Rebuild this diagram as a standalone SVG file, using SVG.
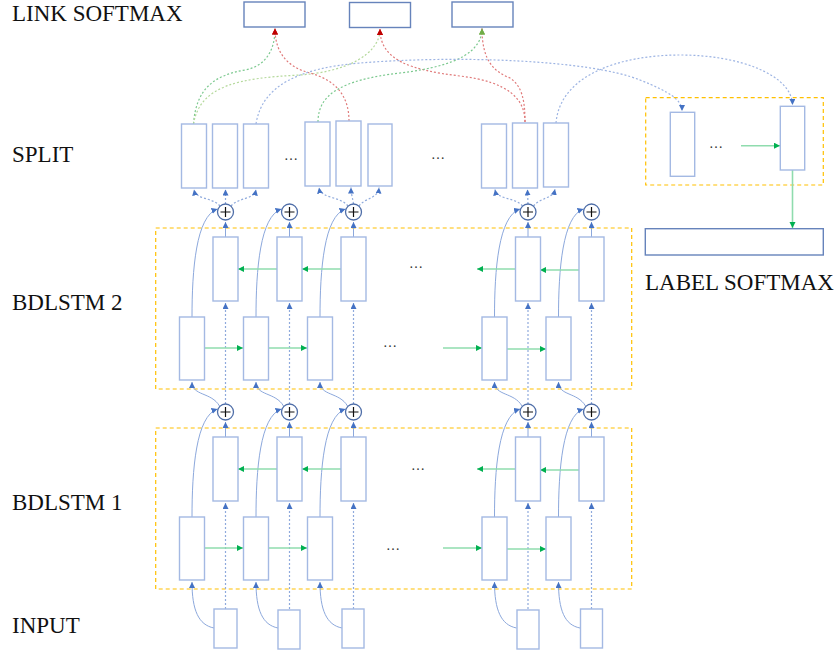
<svg xmlns="http://www.w3.org/2000/svg" width="839" height="655" viewBox="0 0 839 655">
<style>
.lbl{font-family:"Liberation Serif","Times New Roman",serif;font-size:23px;fill:#111}
.ell{font-family:"Liberation Serif","Times New Roman",serif;font-size:14px;fill:#333}
.cell{fill:#fff;stroke:#a4b9e3;stroke-width:1.4}
.dark{fill:#fff;stroke:#6683bb;stroke-width:1.4}
.frame{fill:none;stroke:#ffc000;stroke-width:1.2;stroke-dasharray:4,3}
.sum{fill:#fff;stroke:#4f6ea8;stroke-width:1.3}
.plus{stroke:#111;stroke-width:1.2}
.sol{fill:none;stroke:#8ca8dc;stroke-width:1}
.dot{fill:none;stroke:#8faadc;stroke-width:1.2;stroke-dasharray:2,2}
.grn{fill:none;stroke:#8fdcae;stroke-width:1.6}
.lr{fill:none;stroke:#e07a7a;stroke-width:1.2;stroke-dasharray:2,2}
.lg{fill:none;stroke:#7cc98f;stroke-width:1.2;stroke-dasharray:2,2}
.llg{fill:none;stroke:#b5d99c;stroke-width:1.2;stroke-dasharray:2,2}
.lb{fill:none;stroke:#9db4e3;stroke-width:1.2;stroke-dasharray:2,2}
</style>
<defs>
<marker id="ab" markerUnits="userSpaceOnUse" markerWidth="7" markerHeight="7" refX="6" refY="3" orient="auto"><path d="M0,0 L6,3 L0,6 z" fill="#4472c4"/></marker>
<marker id="ag" markerUnits="userSpaceOnUse" markerWidth="7" markerHeight="7" refX="6" refY="3" orient="auto"><path d="M0,0 L6,3 L0,6 z" fill="#00b050"/></marker>
<marker id="ar" markerUnits="userSpaceOnUse" markerWidth="7" markerHeight="7" refX="6" refY="3" orient="auto"><path d="M0,0 L6,3 L0,6 z" fill="#c00000"/></marker>
<marker id="ao" markerUnits="userSpaceOnUse" markerWidth="7" markerHeight="7" refX="6" refY="3" orient="auto"><path d="M0,0 L6,3 L0,6 z" fill="#70ad47"/></marker>
</defs>
<rect width="839" height="655" fill="#fff"/>

<g id="labels">
<text class="lbl" x="12" y="21">LINK SOFTMAX</text>
<text class="lbl" x="12" y="162">SPLIT</text>
<text class="lbl" x="12" y="310">BDLSTM 2</text>
<text class="lbl" x="12" y="510">BDLSTM 1</text>
<text class="lbl" x="12" y="633">INPUT</text>
<text class="lbl" x="645" y="290">LABEL SOFTMAX</text>
</g>

<g id="frames">
<rect id="bdlstm2-frame" class="frame" x="155.7" y="228" width="476" height="161"/>
<rect id="bdlstm1-frame" class="frame" x="155.7" y="428" width="476" height="161"/>
<rect id="label-frame" class="frame" x="645.7" y="97.7" width="177.6" height="87.3"/>
</g>

<g id="connectors">
<!-- column 1 -->
<path class="dot" d="M225.5,609 L225.5,503" marker-end="url(#ab)"/>
<path class="sol" d="M214,628 C198.5,625 192,610 192,582" marker-end="url(#ab)"/>
<path class="sol" d="M225.5,437 L225.5,422" marker-end="url(#ab)"/>
<path class="sol" d="M192,517 C192,470 196,416 217.5,409" marker-end="url(#ab)"/>
<path class="dot" d="M225.5,404 L225.5,303" marker-end="url(#ab)"/>
<path class="sol" d="M219.5,406 C211.5,392 192,396 192,382" marker-end="url(#ab)"/>
<path class="sol" d="M225.5,237 L225.5,222" marker-end="url(#ab)"/>
<path class="sol" d="M192,317 C192,270 196,216 217.5,209" marker-end="url(#ab)"/>
<!-- column 2 -->
<path class="dot" d="M289.5,609 L289.5,503" marker-end="url(#ab)"/>
<path class="sol" d="M278,628 C262.5,625 256,610 256,582" marker-end="url(#ab)"/>
<path class="sol" d="M289.5,437 L289.5,422" marker-end="url(#ab)"/>
<path class="sol" d="M256,517 C256,470 260,416 281.5,409" marker-end="url(#ab)"/>
<path class="dot" d="M289.5,404 L289.5,303" marker-end="url(#ab)"/>
<path class="sol" d="M283.5,406 C275.5,392 256,396 256,382" marker-end="url(#ab)"/>
<path class="sol" d="M289.5,237 L289.5,222" marker-end="url(#ab)"/>
<path class="sol" d="M256,317 C256,270 260,216 281.5,209" marker-end="url(#ab)"/>
<!-- column 3 -->
<path class="dot" d="M353.5,609 L353.5,503" marker-end="url(#ab)"/>
<path class="sol" d="M342,628 C326.5,625 320,610 320,582" marker-end="url(#ab)"/>
<path class="sol" d="M353.5,437 L353.5,422" marker-end="url(#ab)"/>
<path class="sol" d="M320,517 C320,470 324,416 345.5,409" marker-end="url(#ab)"/>
<path class="dot" d="M353.5,404 L353.5,303" marker-end="url(#ab)"/>
<path class="sol" d="M347.5,406 C339.5,392 320,396 320,382" marker-end="url(#ab)"/>
<path class="sol" d="M353.5,237 L353.5,222" marker-end="url(#ab)"/>
<path class="sol" d="M320,317 C320,270 324,216 345.5,209" marker-end="url(#ab)"/>
<!-- column 4 -->
<path class="dot" d="M528,609 L528,503" marker-end="url(#ab)"/>
<path class="sol" d="M516.5,628 C501,625 494.5,610 494.5,582" marker-end="url(#ab)"/>
<path class="sol" d="M528,437 L528,422" marker-end="url(#ab)"/>
<path class="sol" d="M494.5,517 C494.5,470 498.5,416 520,409" marker-end="url(#ab)"/>
<path class="dot" d="M528,404 L528,303" marker-end="url(#ab)"/>
<path class="sol" d="M522,406 C514,392 494.5,396 494.5,382" marker-end="url(#ab)"/>
<path class="sol" d="M528,237 L528,222" marker-end="url(#ab)"/>
<path class="sol" d="M494.5,317 C494.5,270 498.5,216 520,209" marker-end="url(#ab)"/>
<!-- column 5 -->
<path class="dot" d="M591.5,609 L591.5,503" marker-end="url(#ab)"/>
<path class="sol" d="M580,628 C564.5,625 558.5,610 558.5,582" marker-end="url(#ab)"/>
<path class="sol" d="M591.5,437 L591.5,422" marker-end="url(#ab)"/>
<path class="sol" d="M558.5,517 C558.5,470 562.5,416 583.5,409" marker-end="url(#ab)"/>
<path class="dot" d="M591.5,404 L591.5,303" marker-end="url(#ab)"/>
<path class="sol" d="M585.5,406 C577.5,392 558.5,396 558.5,382" marker-end="url(#ab)"/>
<path class="sol" d="M591.5,237 L591.5,222" marker-end="url(#ab)"/>
<path class="sol" d="M558.5,317 C558.5,270 562.5,216 583.5,209" marker-end="url(#ab)"/>

<!-- recurrent arrows -->
<path class="grn" d="M204,348 L243,348" marker-end="url(#ag)"/>
<path class="grn" d="M268,348 L307,348" marker-end="url(#ag)"/>
<path class="grn" d="M443,348 L482,348" marker-end="url(#ag)"/>
<path class="grn" d="M507,349 L546,349" marker-end="url(#ag)"/>
<path class="grn" d="M277,269 L238,269" marker-end="url(#ag)"/>
<path class="grn" d="M341,269 L302,269" marker-end="url(#ag)"/>
<path class="grn" d="M516,269 L477,269" marker-end="url(#ag)"/>
<path class="grn" d="M579,270 L540,270" marker-end="url(#ag)"/>
<path class="grn" d="M204,548 L243,548" marker-end="url(#ag)"/>
<path class="grn" d="M268,548 L307,548" marker-end="url(#ag)"/>
<path class="grn" d="M443,548 L482,548" marker-end="url(#ag)"/>
<path class="grn" d="M507,549 L546,549" marker-end="url(#ag)"/>
<path class="grn" d="M277,469 L238,469" marker-end="url(#ag)"/>
<path class="grn" d="M341,469 L302,469" marker-end="url(#ag)"/>
<path class="grn" d="M516,469 L477,469" marker-end="url(#ag)"/>
<path class="grn" d="M579,470 L540,470" marker-end="url(#ag)"/>

<!-- sum to split -->
<path class="dot" d="M220,206 C212,197 196,200 194,189.5" marker-end="url(#ab)"/>
<path class="dot" d="M225.5,204 L225.5,189.5" marker-end="url(#ab)"/>
<path class="dot" d="M231,206 C239,197 254,200 256,189.5" marker-end="url(#ab)"/>
<path class="dot" d="M348,206 C340,196 321,199 319,187.5" marker-end="url(#ab)"/>
<path class="dot" d="M353.5,204 C352.5,197 351,194 351,187.5" marker-end="url(#ab)"/>
<path class="dot" d="M359,206 C366,197 378,199 379,187.5" marker-end="url(#ab)"/>
<path class="dot" d="M522.5,206 C515,197 497,200 495,189.5" marker-end="url(#ab)"/>
<path class="dot" d="M528,204 L527.5,189.5" marker-end="url(#ab)"/>
<path class="dot" d="M533.5,206 C541,197 553,199 555,189" marker-end="url(#ab)"/>

<!-- split to link softmax -->
<path class="lg" d="M193.5,124 C196,88 215,75 245,70 C266,66 275,50 275,28.5" marker-end="url(#ar)"/>
<path class="llg" d="M193.5,124 C200,85 240,78 300,75 C345,72 380,55 380,29" marker-end="url(#ar)"/>
<path class="lr" d="M349,121 C349,95 335,80 310,73 C290,68 275,55 275,28.5" marker-end="url(#ar)"/>
<path class="lr" d="M525,122 C525,100 510,82 460,76 C410,70 380,60 380,29" marker-end="url(#ar)"/>
<path class="lg" d="M318,122 C318,95 340,80 400,73 C460,66 482,50 482,28.5" marker-end="url(#ao)"/>
<path class="lr" d="M525,122 C525,100 522,86 510,78 C495,72 482,62 482,28.5" marker-end="url(#ao)"/>
<path class="lb" d="M256,124 C262,85 300,68 360,63 C460,55 590,60 640,80 C670,92 682,100 682,111" marker-end="url(#ab)"/>
<path class="lb" d="M556,123 C560,75 620,55 680,55 C740,55 792,75 792.5,105" marker-end="url(#ab)"/>

<!-- label section -->
<path class="grn" d="M741,145.7 L780,145.7" marker-end="url(#ag)"/>
<path class="grn" d="M792.5,170 L792.5,228" marker-end="url(#ag)"/>
</g>

<g id="link-softmax">
<rect id="link-a" class="dark" x="244" y="2" width="61" height="25"/>
<rect id="link-b" class="dark" x="349.5" y="2.5" width="61" height="25"/>
<rect id="link-c" class="dark" x="452" y="2" width="61" height="25"/>
</g>

<g id="split">
<rect id="split-1" class="cell" x="181.5" y="124" width="25" height="64"/>
<rect id="split-2" class="cell" x="212.5" y="124" width="25" height="64"/>
<rect id="split-3" class="cell" x="243.5" y="124" width="25" height="64"/>
<rect id="split-4" class="cell" x="305" y="122" width="25" height="64"/>
<rect id="split-5" class="cell" x="336" y="121" width="25" height="65"/>
<rect id="split-6" class="cell" x="368" y="124" width="24" height="62"/>
<rect id="split-7" class="cell" x="481.5" y="124" width="25" height="64"/>
<rect id="split-8" class="cell" x="512.5" y="123" width="25" height="65"/>
<rect id="split-9" class="cell" x="543.5" y="123" width="25" height="64"/>
<text class="ell" x="284" y="160">…</text>
<text class="ell" x="431" y="159">…</text>
</g>

<g id="label-section">
<rect id="label-1" class="cell" x="670.3" y="112.3" width="24.4" height="64"/>
<rect id="label-2" class="cell" x="780.3" y="106.3" width="24.4" height="63.7"/>
<text class="ell" x="709" y="148">…</text>
<rect id="label-softmax" class="dark" x="645.3" y="228.7" width="178" height="26.3"/>
</g>

<g id="bdlstm2">
<rect id="b2-bw-1" class="cell" x="213" y="237" width="25" height="64"/>
<rect id="b2-bw-2" class="cell" x="277" y="237" width="25" height="64"/>
<rect id="b2-bw-3" class="cell" x="341" y="237" width="25" height="64"/>
<rect id="b2-bw-4" class="cell" x="515.5" y="237" width="25" height="64"/>
<rect id="b2-bw-5" class="cell" x="579" y="237" width="25" height="64"/>
<rect id="b2-fw-1" class="cell" x="179.5" y="317" width="25" height="63"/>
<rect id="b2-fw-2" class="cell" x="243.5" y="317" width="25" height="63"/>
<rect id="b2-fw-3" class="cell" x="307.5" y="317" width="25" height="63"/>
<rect id="b2-fw-4" class="cell" x="482" y="317" width="25" height="63"/>
<rect id="b2-fw-5" class="cell" x="546" y="317" width="25" height="63"/>
<text class="ell" x="409" y="268">…</text>
<text class="ell" x="383" y="347">…</text>
</g>

<g id="bdlstm1">
<rect id="b1-bw-1" class="cell" x="213" y="437" width="25" height="64"/>
<rect id="b1-bw-2" class="cell" x="277" y="437" width="25" height="64"/>
<rect id="b1-bw-3" class="cell" x="341" y="437" width="25" height="64"/>
<rect id="b1-bw-4" class="cell" x="515.5" y="437" width="25" height="64"/>
<rect id="b1-bw-5" class="cell" x="579" y="437" width="25" height="64"/>
<rect id="b1-fw-1" class="cell" x="179.5" y="517" width="25" height="63"/>
<rect id="b1-fw-2" class="cell" x="243.5" y="517" width="25" height="63"/>
<rect id="b1-fw-3" class="cell" x="307.5" y="517" width="25" height="63"/>
<rect id="b1-fw-4" class="cell" x="482" y="517" width="25" height="63"/>
<rect id="b1-fw-5" class="cell" x="546" y="517" width="25" height="63"/>
<text class="ell" x="411" y="470">…</text>
<text class="ell" x="386" y="550">…</text>
</g>

<g id="input">
<rect id="in-1" class="cell" x="214" y="609" width="23" height="39"/>
<rect id="in-2" class="cell" x="278" y="610" width="22" height="39"/>
<rect id="in-3" class="cell" x="342" y="609" width="22" height="39"/>
<rect id="in-4" class="cell" x="517" y="610" width="22" height="39"/>
<rect id="in-5" class="cell" x="580.5" y="609" width="22" height="39"/>
</g>

<g id="sums">
<g id="sum2-1"><circle class="sum" cx="225.5" cy="212" r="8"/><path class="plus" d="M220.5,212 H230.5 M225.5,207 V217"/></g>
<g id="sum2-2"><circle class="sum" cx="289.5" cy="212" r="8"/><path class="plus" d="M284.5,212 H294.5 M289.5,207 V217"/></g>
<g id="sum2-3"><circle class="sum" cx="353.5" cy="212" r="8"/><path class="plus" d="M348.5,212 H358.5 M353.5,207 V217"/></g>
<g id="sum2-4"><circle class="sum" cx="528" cy="212" r="8"/><path class="plus" d="M523,212 H533 M528,207 V217"/></g>
<g id="sum2-5"><circle class="sum" cx="591.5" cy="212" r="8"/><path class="plus" d="M586.5,212 H596.5 M591.5,207 V217"/></g>
<g id="sum1-1"><circle class="sum" cx="225.5" cy="412" r="8"/><path class="plus" d="M220.5,412 H230.5 M225.5,407 V417"/></g>
<g id="sum1-2"><circle class="sum" cx="289.5" cy="412" r="8"/><path class="plus" d="M284.5,412 H294.5 M289.5,407 V417"/></g>
<g id="sum1-3"><circle class="sum" cx="353.5" cy="412" r="8"/><path class="plus" d="M348.5,412 H358.5 M353.5,407 V417"/></g>
<g id="sum1-4"><circle class="sum" cx="528" cy="412" r="8"/><path class="plus" d="M523,412 H533 M528,407 V417"/></g>
<g id="sum1-5"><circle class="sum" cx="591.5" cy="412" r="8"/><path class="plus" d="M586.5,412 H596.5 M591.5,407 V417"/></g>
</g>
</svg>
